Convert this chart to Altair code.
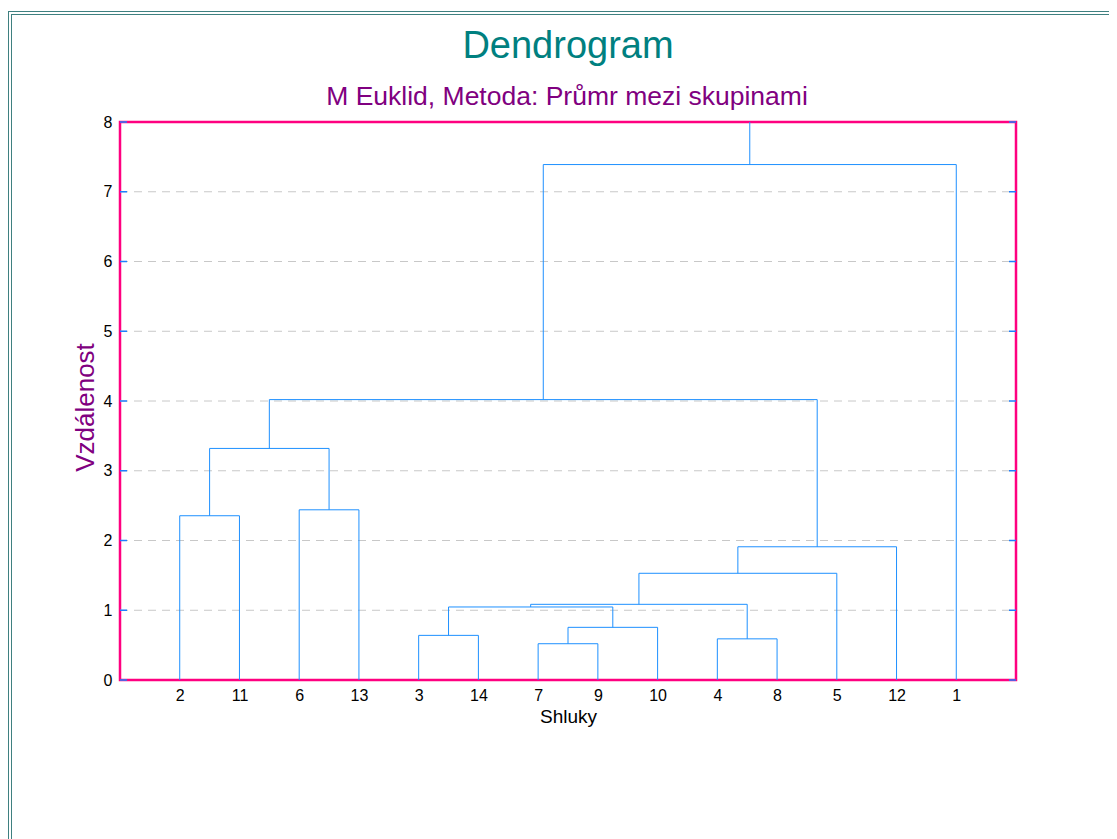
import altair as alt
import pandas as pd

# ---- data ----
leaves = ["2", "11", "6", "13", "3", "14", "7", "9", "10", "4", "8", "5", "12", "1"]
# merges: (name, left child, right child, distance)
merge_names = ["c1", "c2", "c3", "c4", "c5", "c6", "c7", "c8", "c9", "c10", "c11", "c12", "c13"]
merge_left = ["2", "6", "c1", "3", "7", "c5", "4", "c4", "c8", "c9", "c10", "c3", "c12"]
merge_right = ["11", "13", "c2", "14", "9", "10", "8", "c6", "c7", "5", "12", "c11", "1"]
merge_height = [2.355, 2.44, 3.32, 0.64, 0.52, 0.755, 0.59, 1.047, 1.085, 1.53, 1.91, 4.02, 7.39]
y_ticks = [0, 1, 2, 3, 4, 5, 6, 7, 8]
grid_values = [1, 2, 3, 4, 5, 6, 7]
y_max = 8
title_text = "Dendrogram"
subtitle_text = "M Euklid, Metoda: Průmr mezi skupinami"

# ---- build segments from the linkage ----
pos = {name: i + 1 for i, name in enumerate(leaves)}
hgt = {name: 0.0 for name in leaves}
segs = []
for n, a, b, h in zip(merge_names, merge_left, merge_right, merge_height):
    xa, xb = pos[a], pos[b]
    segs.append({"x": xa, "x2": xa, "y": hgt[a], "y2": h})
    segs.append({"x": xb, "x2": xb, "y": hgt[b], "y2": h})
    segs.append({"x": xa, "x2": xb, "y": h, "y2": h})
    pos[n] = (xa + xb) / 2
    hgt[n] = h
root = merge_names[-1]
segs.append({"x": pos[root], "x2": pos[root], "y": hgt[root], "y2": y_max})
seg_df = pd.DataFrame(segs)

W, H = 896, 558
FONT = "Liberation Sans"

label_array = "[" + ",".join("'" + s + "'" for s in leaves) + "]"

xscale = alt.Scale(domain=[0, len(leaves) + 1], nice=False, zero=False)
yscale = alt.Scale(domain=[0, y_max], nice=False)

grid = alt.Chart(pd.DataFrame({"g": grid_values})).mark_rule(
    color="#c8c8c8", strokeWidth=1, strokeDash=[8, 6]).encode(
    y=alt.Y("g:Q", scale=yscale), x=alt.value(0), x2=alt.value(W))

lines = alt.Chart(seg_df).mark_rule(color="#1e90ff", strokeWidth=1).encode(
    x=alt.X("x:Q", scale=xscale,
            axis=alt.Axis(values=list(range(1, len(leaves) + 1)),
                          labelExpr=label_array + "[datum.value - 1]",
                          title="Shluky", ticks=False, domain=False, grid=False,
                          labelFontSize=16, labelFont=FONT, labelColor="black",
                          labelPadding=7, titleFont=FONT, titleFontSize=19,
                          titleFontWeight="normal", titleColor="black",
                          titleY=36, titleBaseline="middle")),
    x2="x2:Q",
    y=alt.Y("y:Q", scale=yscale,
            axis=alt.Axis(values=y_ticks, format="d", title="Vzdálenost", ticks=False,
                          domain=False, grid=False,
                          labelFontSize=16, labelFont=FONT, labelColor="black",
                          labelPadding=8, titleFont=FONT, titleFontSize=26,
                          titleFontWeight="normal", titleColor="#800080",
                          titleAngle=270, titleX=-35, titleY=H / 2 + 6,
                          titleBaseline="middle", titleAlign="center")),
    y2="y2:Q",
)

tick_df = pd.DataFrame({"v": y_ticks})
ticks_left = alt.Chart(tick_df).mark_rule(color="#1e7fff", strokeWidth=1.5).encode(
    y=alt.Y("v:Q", scale=yscale), x=alt.value(0), x2=alt.value(7))
ticks_right = alt.Chart(tick_df).mark_rule(color="#1e7fff", strokeWidth=1.5).encode(
    y=alt.Y("v:Q", scale=yscale), x=alt.value(W - 7), x2=alt.value(W))

one = alt.Data(values=[{}])
BC = "#3f8080"
b_top1 = alt.Chart(one).mark_rule(color=BC, strokeWidth=1).encode(
    x=alt.value(-112), x2=alt.value(1000), y=alt.value(-110.5))
b_top2 = alt.Chart(one).mark_rule(color=BC, strokeWidth=1).encode(
    x=alt.value(-109), x2=alt.value(1000), y=alt.value(-107.5))
b_left1 = alt.Chart(one).mark_rule(color=BC, strokeWidth=1).encode(
    x=alt.value(-111.5), y=alt.value(-111), y2=alt.value(900))
b_left2 = alt.Chart(one).mark_rule(color=BC, strokeWidth=1).encode(
    x=alt.value(-108.5), y=alt.value(-108), y2=alt.value(900))

title_mark = alt.Chart(one).mark_text(
    text=title_text, font=FONT, fontSize=38, color="#008080",
    align="center", baseline="alphabetic").encode(
    x=alt.value(W / 2), y=alt.value(-64))
subtitle_mark = alt.Chart(one).mark_text(
    text=subtitle_text, font=FONT, fontSize=26.5, color="#800080",
    align="center", baseline="alphabetic").encode(
    x=alt.value(W / 2 - 1), y=alt.value(-17))

chart = alt.layer(
    b_top1, b_top2, b_left1, b_left2, title_mark, subtitle_mark,
    grid, lines, ticks_left, ticks_right,
).properties(
    width=W, height=H,
    autosize=alt.AutoSizeParams(type="none"),
    padding={"left": 112, "top": 114, "right": 93, "bottom": 220},
).configure_view(stroke="#ff0080", strokeWidth=2.5)

chart.save("out.html", embed_options={"renderer": "svg", "actions": False})
